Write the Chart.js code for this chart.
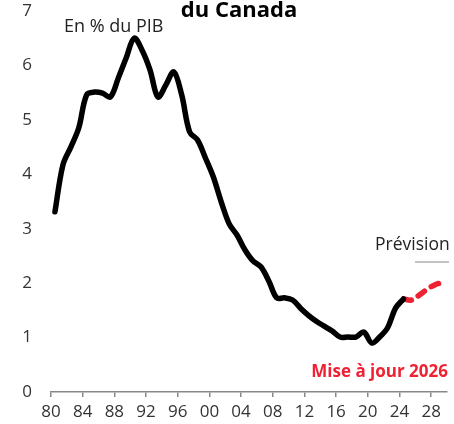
<!DOCTYPE html>
<html>
<head>
<meta charset="utf-8">
<script src="https://cdn.jsdelivr.net/npm/chart.js@4"></script>
<style>
  html, body { margin: 0; padding: 0; background: #fff; }
  #wrap { width: 454px; height: 424px; position: relative; }
</style>
</head>
<body>
<div id="wrap"><canvas id="chartDette"></canvas></div>
<script>
// annees budgetaires (debut), valeurs en % du PIB
const annees = [
  1980, 1981, 1982, 1983, 1984, 1985, 1986, 1987, 1988, 1989,
  1990, 1991, 1992, 1993, 1994, 1995, 1996, 1997, 1998, 1999,
  2000, 2001, 2002, 2003, 2004, 2005, 2006, 2007, 2008, 2009,
  2010, 2011, 2012, 2013, 2014, 2015, 2016, 2017, 2018, 2019,
  2020, 2021, 2022, 2023, 2024,
];
const valeurs = [
  3.31, 4.17, 4.5, 4.85, 5.46, 5.51, 5.49, 5.42, 5.77, 6.14,
  6.5, 6.28, 5.92, 5.42, 5.64, 5.88, 5.46, 4.78, 4.63, 4.3,
  3.95, 3.49, 3.09, 2.88, 2.61, 2.41, 2.3, 2.04, 1.73, 1.73,
  1.69, 1.54, 1.41, 1.3, 1.21, 1.12, 1.01, 1.01, 1.01, 1.1,
  0.9, 1.01, 1.18, 1.54, 1.71,
];
const anneesPrev = [2024, 2025, 2026, 2027, 2028, 2029];
const valeursPrev = [1.71, 1.69, 1.78, 1.89, 1.97, 2.02];
const xTicks = [1980, 1984, 1988, 1992, 1996, 2000, 2004, 2008, 2012, 2016, 2020, 2024, 2028];
const yTicks = [0, 1, 2, 3, 4, 5, 6, 7];

const police = "'Open Sans', 'Noto Sans', sans-serif";
const rouge = "#ee2233";

// point au milieu de l'annee budgetaire
const serie = (xs, ys) => xs.map((a, i) => ({ x: a + 0.5, y: ys[i] }));

const textes = {
  id: "textes",
  afterDraw(chart) {
    const c = chart.ctx;
    c.save();
    c.textBaseline = "alphabetic";
    c.fillStyle = "#000";
    c.font = "bold 22px " + police;
    c.textAlign = "center";
    c.fillText("du Canada", 239, 17);
    c.fillStyle = "#222";
    c.font = "18px " + police;
    c.textAlign = "left";
    c.fillText("En % du PIB", 64, 32);
    c.font = "17.5px " + police;
    c.fillText("Prévision", 375, 250);
    c.strokeStyle = "#888";
    c.lineWidth = 1.2;
    c.beginPath();
    c.moveTo(415, 262);
    c.lineTo(449, 262);
    c.stroke();
    c.fillStyle = rouge;
    c.font = "bold 17px " + police;
    c.textAlign = "right";
    c.fillText("Mise à jour 2026", 448, 377);
    c.restore();
  },
};

new Chart(document.getElementById("chartDette").getContext("2d"), {
  type: "line",
  data: {
    datasets: [
      {
        label: "Frais de la dette",
        data: serie(annees, valeurs),
        borderColor: "#000",
        borderWidth: 5.5,
        tension: 0.35,
        pointRadius: 0,
        borderCapStyle: "round",
        borderJoinStyle: "round",
      },
      {
        label: "Prévision",
        data: serie(anneesPrev, valeursPrev),
        borderColor: rouge,
        borderWidth: 5.5,
        borderDash: [8, 8],
        tension: 0.35,
        pointRadius: 0,
        borderCapStyle: "round",
      },
    ],
  },
  options: {
    responsive: true,
    maintainAspectRatio: false,
    animation: false,
    layout: { padding: { top: 11, right: 7, left: 0, bottom: 0 } },
    plugins: { legend: { display: false }, tooltip: { enabled: false } },
    scales: {
      x: {
        type: "linear",
        min: 1980,
        max: 2030,
        afterFit: (s) => {
          s.height = 32;
          s.paddingLeft = 0;
          s.paddingRight = 0;
        },
        afterBuildTicks: (s) => { s.ticks = xTicks.map((v) => ({ value: v })); },
        ticks: {
          padding: 5,
          color: "#333",
          font: { family: police, size: 17 },
          maxRotation: 0,
          autoSkip: false,
          callback: (v) => String(v % 100).padStart(2, "0"),
        },
        grid: {
          drawOnChartArea: false,
          drawTicks: true,
          tickLength: 5,
          color: "#888",
          lineWidth: 1.5,
        },
        border: { display: true, color: "#888", width: 1.5 },
      },
      y: {
        min: 0,
        max: 7,
        afterFit: (s) => {
          s.width = 51;
          s.paddingTop = 0;
          s.paddingBottom = 0;
        },
        afterBuildTicks: (s) => { s.ticks = yTicks.map((v) => ({ value: v })); },
        ticks: {
          padding: 19,
          color: "#333",
          font: { family: police, size: 17 },
        },
        grid: { display: false, drawTicks: false },
        border: { display: false },
      },
    },
  },
  plugins: [textes],
});
</script>
</body>
</html>
